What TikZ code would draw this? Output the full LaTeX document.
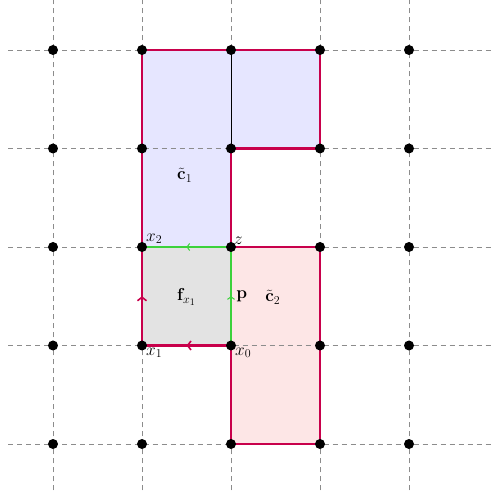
\documentclass[tikz,border=0pt]{standalone}
\usepackage{amsmath,amssymb}
\usepackage{tikz}
\usetikzlibrary{arrows.meta,positioning,decorations.markings}
\definecolor{edgered}{RGB}{200,0,75}
\definecolor{cellblue}{RGB}{230,230,255}
\definecolor{cellpink}{RGB}{253,230,230}
\definecolor{cellgray}{RGB}{227,227,227}
\definecolor{pathgreen}{RGB}{60,210,60}
\tikzset{
  grid-line/.style={draw=black!45, dash pattern=on 5pt off 4pt, line width=0.7pt},
  grid-dot/.style={circle, fill=black, inner sep=0pt, minimum size=10pt},
  cell-border/.style={draw=edgered, line width=2.3pt},
  green-edge/.style={draw=pathgreen, line width=1.5pt},
  mid-arrow/.style={postaction={decorate}, decoration={markings,
    mark=at position 0.5 with {\arrow{#1}}}},
  pt-label/.style={inner sep=1pt, font=\LARGE},
  cell-label/.style={inner sep=1pt, font=\LARGE}
}

\begin{document}
\begin{tikzpicture}[x=89pt, y=98.5pt, >=Latex]
  \useasboundingbox (-53pt,-52pt) rectangle (438pt,444pt);
  \foreach \i in {0,...,4} {
    \foreach \j in {0,...,4} {
      \coordinate (v\i\j) at (\i,\j);
    }
  }
  % cells
  \fill[cellblue] (v12) -- (v14) -- (v34) -- (v33) -- (v23) -- (v22) -- cycle;
  \fill[cellpink] (v20) rectangle (v32);
  \fill[cellgray] (v11) rectangle (v22);
  % grid
  \foreach \k in {0,...,4} {
    \draw[grid-line] (-0.5,\k) -- (4.93,\k);
    \draw[grid-line] (\k,-0.47) -- (\k,4.53);
  }
  \draw[line width=0.8pt] (v23) -- (v24);
  % borders
  \draw[cell-border] (v12) -- (v14) -- (v34) -- (v33) -- (v23) -- (v22) -- (v32) -- (v30) -- (v20) -- (v22);
  \draw[cell-border, mid-arrow={Straight Barb[length=3.5pt, width=9pt, line width=1.6pt]}] (v11) -- (v12);
  \draw[cell-border, mid-arrow={Straight Barb[length=3.5pt, width=9pt, line width=1.6pt]}] (v21) -- (v11);
  \draw[green-edge, mid-arrow={Straight Barb[length=2.5pt, width=7pt, line width=1pt]}] (v22) -- (v12);
  \draw[green-edge, mid-arrow={Straight Barb[length=2.5pt, width=7pt, line width=1pt]}] (v21) -- (v22);
  % dots
  \foreach \i in {0,...,4} {
    \foreach \j in {0,...,4} {
      \node[grid-dot] (d\i\j) at (v\i\j) {};
    }
  }
  % labels
  \node[pt-label, above right=2pt and 3pt of v12] (lx2) {$x_2$};
  \node[pt-label, above right=1pt and 2pt of v22] (lz) {$z$};
  \node[pt-label, below right=1pt and 3pt of v11] (lx1) {$x_1$};
  \node[pt-label, below right=1pt and 3pt of v21] (lx0) {$x_0$};
  \node[cell-label] (c1) at (1.48,2.73) {$\tilde{\mathbf{c}}_1$};
  \node[cell-label] (c2) at (2.47,1.49) {$\tilde{\mathbf{c}}_2$};
  \node[cell-label] (f1) at (1.5,1.49) {$\mathbf{f}_{x_1}$};
  \node[cell-label] (pp) at (2.12,1.5) {$\mathbf{p}$};
\end{tikzpicture}
\end{document}
